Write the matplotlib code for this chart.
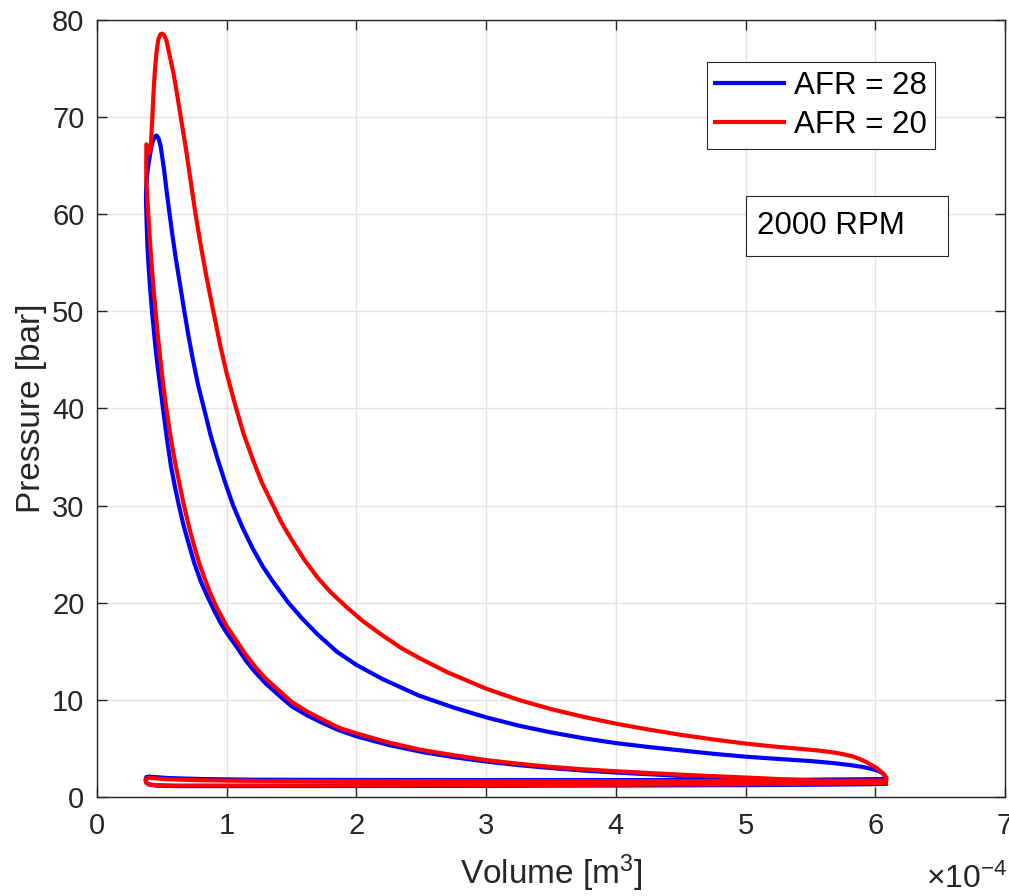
import matplotlib
matplotlib.use("Agg")
import matplotlib.pyplot as plt
from matplotlib.patches import Rectangle

plt.rcParams['font.family'] = ['Liberation Sans', 'DejaVu Sans']
plt.rcParams['mathtext.fontset'] = 'custom'
plt.rcParams['mathtext.rm'] = 'Liberation Sans'
plt.rcParams['mathtext.it'] = 'Liberation Sans:italic'

# volume in 1e-4 m^3, pressure in bar
# AFR = 28
b_comp_v = [6.08, 5.8, 5.5, 5.0, 4.5, 4.0, 3.75, 3.5, 3.25, 3.0, 2.75, 2.5, 2.25, 2.0,
            1.87, 1.75, 1.62, 1.5, 1.4, 1.3, 1.22, 1.15, 1.08, 1.0, 0.95, 0.9, 0.85, 0.8,
            0.75, 0.7, 0.665, 0.632, 0.6, 0.57, 0.54, 0.509, 0.485, 0.465, 0.445, 0.427,
            0.412, 0.40, 0.39, 0.383, 0.378]
b_comp_p = [1.40, 1.46, 1.6, 1.9, 2.17, 2.52, 2.72, 2.98, 3.28, 3.65, 4.1, 4.65, 5.35, 6.25,
            6.85, 7.55, 8.4, 9.35, 10.5, 11.7, 12.85, 14.0, 15.4, 16.9, 18.0, 19.3, 20.7, 22.2,
            24.1, 26.4, 28.1, 30.0, 32.0, 34.1, 36.8, 40.0, 42.5, 44.6, 47.1, 49.6,
            52.0, 54.2, 56.5, 59.0, 61.5]
b_exp_v = [0.38, 0.39, 0.406, 0.42, 0.432, 0.447, 0.46, 0.475, 0.491, 0.517, 0.535, 0.555,
           0.58, 0.607, 0.64, 0.671, 0.705, 0.74, 0.78, 0.825, 0.875, 0.93, 0.99, 1.05,
           1.12, 1.2, 1.28, 1.35, 1.47, 1.58, 1.7, 1.85, 2.0, 2.2, 2.48, 2.75, 3.0, 3.25,
           3.5, 3.75, 4.0, 4.25, 4.5, 4.75, 5.0, 5.25, 5.5, 5.67, 5.8, 5.9, 5.97, 6.02,
           6.05, 6.07, 6.08]
b_exp_p = [63.0, 64.5, 65.9, 67.0, 67.6, 68.0, 68.1, 67.8, 67.0, 64.6, 62.6, 60.5,
           58.0, 55.5, 52.8, 50.2, 47.5, 45.0, 42.4, 40.0, 37.3, 34.8, 32.3, 30.0,
           27.8, 25.6, 23.7, 22.3, 20.1, 18.4, 16.75, 14.95, 13.6, 12.15, 10.45, 9.2, 8.2, 7.35,
           6.65, 6.05, 5.55, 5.15, 4.8, 4.45, 4.15, 3.92, 3.7, 3.5, 3.3, 3.1, 2.9, 2.7,
           2.5, 2.25, 1.85]
b_exh_v = [6.08, 5.5, 5.0, 4.0, 3.0, 2.0, 1.2, 0.8, 0.55, 0.45, 0.40, 0.38]
b_exh_p = [1.85, 1.78, 1.75, 1.74, 1.74, 1.75, 1.78, 1.85, 1.95, 2.05, 2.1, 2.05]
b_int_v = [0.375, 0.38, 0.40, 0.45, 0.6, 1.0, 2.0, 3.0, 4.0, 5.0, 5.6, 6.0, 6.08]
b_int_p = [1.8, 1.5, 1.3, 1.18, 1.12, 1.12, 1.13, 1.15, 1.18, 1.22, 1.27, 1.32, 1.40]

# AFR = 20
r_comp_v = [6.08, 5.8, 5.5, 5.0, 4.5, 4.0, 3.75, 3.5, 3.25, 3.0, 2.75, 2.5, 2.25, 2.0,
            1.87, 1.75, 1.62, 1.5, 1.4, 1.3, 1.22, 1.15, 1.08, 1.0, 0.92, 0.87, 0.83, 0.79,
            0.75, 0.71, 0.671, 0.635, 0.6, 0.565, 0.535, 0.51, 0.49, 0.47, 0.452, 0.435,
            0.42, 0.407, 0.396, 0.385, 0.38]
r_comp_p = [1.5, 1.56, 1.7, 2.0, 2.3, 2.65, 2.85, 3.1, 3.42, 3.8, 4.3, 4.85, 5.6, 6.55,
            7.1, 7.9, 8.8, 9.8, 11.0, 12.2, 13.4, 14.6, 16.0, 17.6, 19.6, 21.1, 22.5, 24.0,
            25.8, 27.8, 30.0, 32.3, 34.6, 37.3, 40.0, 42.5, 45.0, 47.4, 50.0, 52.5,
            55.0, 57.5, 60.0, 62.5, 63.5]
r_exp_v = [0.38, 0.381, 0.39, 0.396, 0.405, 0.415, 0.426, 0.436, 0.447, 0.46, 0.473, 0.488,
           0.503, 0.52, 0.537, 0.568, 0.59, 0.607, 0.63, 0.658, 0.685, 0.709, 0.735, 0.76,
           0.80, 0.838, 0.87, 0.902, 0.95, 1.0, 1.069, 1.13, 1.2, 1.27, 1.35, 1.42, 1.5,
           1.6, 1.7, 1.8, 1.92, 2.05, 2.2, 2.35, 2.5, 2.7, 2.85, 3.0, 3.25, 3.5, 3.75, 4.0,
           4.25, 4.5, 4.75, 5.0, 5.2, 5.4, 5.55, 5.67, 5.75, 5.82, 5.88, 5.93, 5.97, 6.01,
           6.04, 6.07, 6.085, 6.085]
r_exp_p = [65.5, 67.2, 67.0, 66.5, 66.3, 67.0, 69.7, 72.5, 74.9, 76.8, 78.0, 78.5,
           78.6, 78.4, 77.8, 75.9, 74.5, 73.2, 71.3, 69.0, 66.8, 64.6, 62.2, 60.0,
           56.8, 54.0, 51.8, 49.7, 46.5, 43.6, 40.2, 37.4, 34.8, 32.4, 30.2, 28.3, 26.5,
           24.4, 22.6, 21.1, 19.6, 18.1, 16.65, 15.3, 14.2, 12.85, 12.0, 11.15, 10.0, 9.05,
           8.25, 7.55, 6.95, 6.4, 5.93, 5.5, 5.22, 4.98, 4.8, 4.6, 4.42, 4.2, 3.92, 3.6,
           3.3, 2.98, 2.65, 2.3, 2.0, 1.7]
r_exh_v = [6.085, 5.5, 5.0, 4.0, 3.0, 2.0, 1.2, 0.8, 0.55, 0.45, 0.40, 0.38]
r_exh_p = [1.7, 1.65, 1.63, 1.62, 1.62, 1.63, 1.66, 1.72, 1.82, 1.92, 1.97, 1.9]
r_int_v = [0.375, 0.38, 0.40, 0.45, 0.6, 1.0, 2.0, 3.0, 4.0, 5.0, 5.6, 6.0, 6.08]
r_int_p = [1.7, 1.45, 1.3, 1.22, 1.18, 1.18, 1.2, 1.22, 1.26, 1.32, 1.38, 1.45, 1.5]

labels = ['AFR = 28', 'AFR = 20']
x_ticks = [0, 1, 2, 3, 4, 5, 6, 7]
y_ticks = [0, 10, 20, 30, 40, 50, 60, 70, 80]

v28 = b_comp_v + b_exp_v + b_exh_v + b_int_v
p28 = b_comp_p + b_exp_p + b_exh_p + b_int_p
v20 = r_comp_v + r_exp_v + r_exh_v + r_int_v
p20 = r_comp_p + r_exp_p + r_exh_p + r_int_p

fig = plt.figure(figsize=(10.09, 8.96), dpi=100)
ax = fig.add_axes([0.0961, 0.1105, 0.9, 0.8672])

ax.plot(v28, p28, color=(0, 0, 1), lw=3, label=labels[0], solid_joinstyle='round')
ax.plot(v20, p20, color=(1, 0, 0), lw=3, label=labels[1], solid_joinstyle='round')

ax.set_xlim(0, 7)
ax.set_ylim(0, 80)
ax.set_xticks(x_ticks)
ax.set_yticks(y_ticks)
ax.grid(True, color='#e3e3e3', lw=1)
ax.set_axisbelow(True)
ax.tick_params(direction='in', top=True, right=True, length=7, width=1,
               colors='#262626', labelsize=21)
ax.tick_params(axis='x', pad=11)
ax.tick_params(axis='y', pad=9)
for s in ax.spines.values():
    s.set_color('#262626')
    s.set_linewidth(1)

ax.set_xlabel('Volume [m$^3$]', fontsize=24, color='#262626', labelpad=9)
ax.set_ylabel('Pressure [bar]', fontsize=24, color='#262626', labelpad=4)
fig.text(1007 / 1009, 8 / 896, r'$\times$10$^{-4}$', fontsize=23, ha='right',
         va='baseline', color='#262626')

leg = ax.legend(loc='upper right', bbox_to_anchor=(0.923, 0.946), borderaxespad=0,
                fontsize=22.5, handlelength=2.2, handletextpad=0.3, borderpad=0.28,
                labelspacing=0.3, fancybox=False, framealpha=1, edgecolor='#262626')
leg.get_frame().set_linewidth(0.8)

ax.add_patch(Rectangle((0.7148, 0.6963), 0.2224, 0.0772, transform=ax.transAxes,
                       facecolor='white', edgecolor='#262626', lw=0.8, zorder=5))
ax.text(0.7269, 0.7349, '2000 RPM', transform=ax.transAxes, fontsize=22.5,
        va='center', ha='left', zorder=6)

fig.savefig('out.png', dpi=100)
